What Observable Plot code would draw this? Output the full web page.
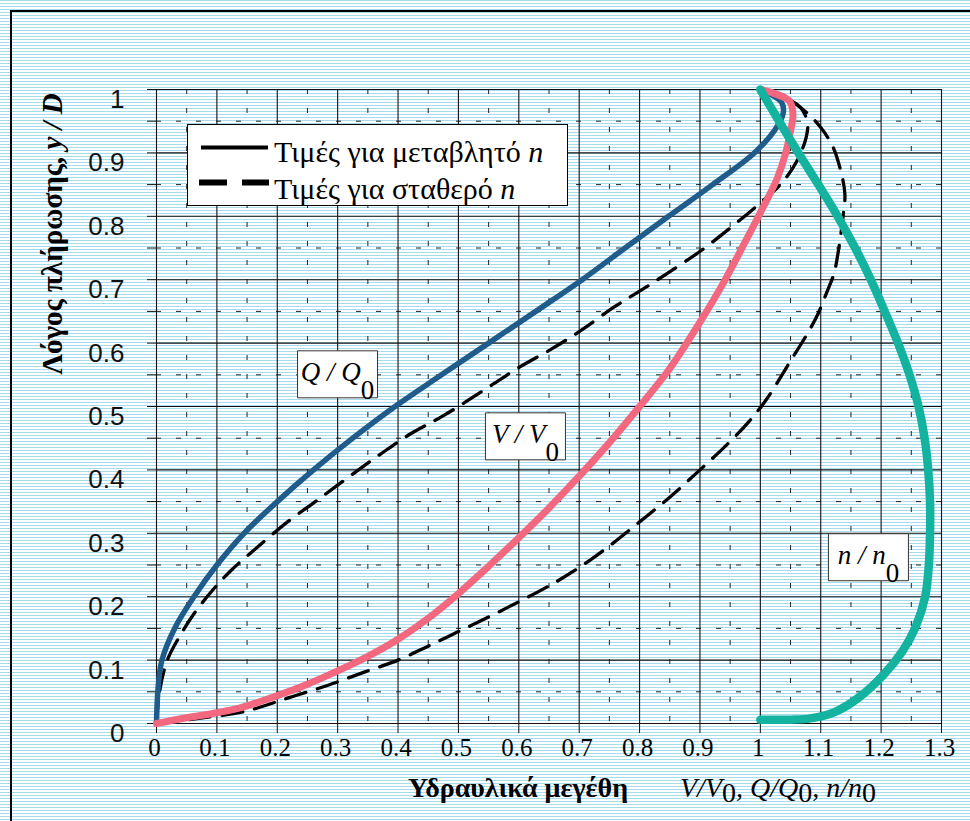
<!DOCTYPE html>
<html>
<head>
<meta charset="utf-8">
<script src="https://cdn.jsdelivr.net/npm/d3@7"></script>
<script src="https://cdn.jsdelivr.net/npm/@observablehq/plot@0.6"></script>
<style>
body { margin: 0; padding: 0; background: #fff; }
#chart { position: absolute; left: 0; top: 0; }
.serif { font-family: 'Liberation Serif'; color: #000; white-space: nowrap; }
#legend { position: absolute; left: 187px; top: 124px; width: 379px; height: 80px;
  background: #fff; border: 1px solid #000; }
#legend svg { position: absolute; left: 0; top: 0; }
#legend .item { position: absolute; left: 86px; font-size: 30px; line-height: 30px; }
#ytitle { position: absolute; left: 63px; top: 234px; font-size: 29px; line-height: 29px; font-weight: bold;
  transform-origin: 0 0; transform: rotate(-90deg) translate(-50%, -25px); }
#xtitle1 { position: absolute; left: 408px; top: 774px; font-size: 28px; line-height: 28px; font-weight: bold; }
#xtitle2 { position: absolute; left: 680px; top: 774px; font-size: 28px; line-height: 28px; }
#xtitle2 i { font-style: italic; }
#xtitle2 .sub { position: relative; top: 5px; }
</style>
</head>
<body>
<div id="chart"></div>
<div id="legend" class="serif">
  <svg id="legendLines" width="379" height="80"></svg>
  <div class="item serif" style="top:12px">Τιμές για μεταβλητό <i>n</i></div>
  <div class="item serif" style="top:49px">Τιμές για σταθερό <i>n</i></div>
</div>
<div id="ytitle" class="serif">Λόγος πλήρωσης, <i>y / D</i></div>
<div id="xtitle1" class="serif">Υδραυλικά μεγέθη</div>
<div id="xtitle2" class="serif"><i>V/V</i><span class="sub">0</span><i>, Q/Q</i><span class="sub">0</span><i>, n/n</i><span class="sub">0</span></div>
<script>
// ---- tick values and labels ----
const xTicks = [0, 0.1, 0.2, 0.3, 0.4, 0.5, 0.6, 0.7, 0.8, 0.9, 1.0, 1.1, 1.2, 1.3];
const xTickLabels = ["0", "0.1", "0.2", "0.3", "0.4", "0.5", "0.6", "0.7", "0.8", "0.9", "1", "1.1", "1.2", "1.3"];
const xMid = [0.05, 0.15, 0.25, 0.35, 0.45, 0.55, 0.65, 0.75, 0.85, 0.95, 1.05, 1.15, 1.25];
const yTicks = [0, 0.1, 0.2, 0.3, 0.4, 0.5, 0.6, 0.7, 0.8, 0.9, 1.0];
const yTickLabels = ["0", "0.1", "0.2", "0.3", "0.4", "0.5", "0.6", "0.7", "0.8", "0.9", "1"];
const yMid = [0.05, 0.15, 0.25, 0.35, 0.45, 0.55, 0.65, 0.75, 0.85, 0.95];

// ---- series: [x, y] pairs, y = filling ratio y/D ----
// Q/Q0, variable n (solid blue)
const qVariable = [[0,0],[0.001,0.03],[0.003,0.06],[0.009,0.1],[0.03,0.15],[0.062,0.2],[0.1,0.25],[0.145,0.3],[0.2,0.35],[0.26,0.4],[0.325,0.45],[0.395,0.5],[0.472,0.55],[0.55,0.6],[0.628,0.65],[0.705,0.7],[0.776,0.75],[0.848,0.8],[0.921,0.85],[0.99,0.9],[1.024,0.936],[1.038,0.963],[1.035,0.98],[1.0,1.0]];
// V/V0, variable n (solid pink)
const vVariable = [[0,0],[0.05,0.009],[0.1,0.017],[0.14,0.025],[0.2,0.044],[0.25,0.062],[0.3,0.083],[0.35,0.106],[0.4,0.133],[0.45,0.166],[0.5,0.205],[0.55,0.248],[0.6,0.293],[0.65,0.34],[0.7,0.39],[0.75,0.443],[0.8,0.5],[0.85,0.56],[0.9,0.633],[0.94,0.697],[0.975,0.76],[1.005,0.815],[1.028,0.86],[1.042,0.9],[1.05,0.935],[1.054,0.96],[1.048,0.982],[1.0,1.0]];
// n/n0, variable n (solid teal)
const nVariable = [[1.0,0.006],[1.05,0.006],[1.083,0.008],[1.123,0.018],[1.163,0.041],[1.205,0.078],[1.236,0.115],[1.257,0.152],[1.273,0.2],[1.279,0.25],[1.281,0.3],[1.281,0.35],[1.278,0.4],[1.272,0.45],[1.262,0.5],[1.247,0.55],[1.228,0.6],[1.206,0.65],[1.183,0.7],[1.157,0.75],[1.128,0.8],[1.096,0.85],[1.063,0.9],[1.031,0.95],[1.0,1.0]];
// Q/Q0, constant n (dashed)
const qConstant = [[0,0],[0.005,0.05],[0.018,0.1],[0.04,0.14],[0.062,0.173],[0.09,0.207],[0.123,0.241],[0.167,0.278],[0.217,0.318],[0.266,0.352],[0.32,0.39],[0.371,0.425],[0.421,0.457],[0.476,0.486],[0.554,0.533],[0.601,0.562],[0.653,0.59],[0.703,0.62],[0.758,0.657],[0.802,0.683],[0.846,0.71],[0.902,0.746],[0.952,0.783],[0.995,0.817],[1.035,0.852],[1.061,0.888],[1.076,0.925],[1.078,0.948],[1.066,0.972],[1.038,0.988],[1.0,1.0]];
// V/V0, constant n (dashed)
const vConstant = [[0,0],[0.07,0.008],[0.15,0.02],[0.217,0.04],[0.283,0.06],[0.344,0.081],[0.4,0.1],[0.45,0.122],[0.5,0.145],[0.55,0.168],[0.6,0.192],[0.65,0.217],[0.7,0.246],[0.75,0.28],[0.8,0.318],[0.85,0.357],[0.9,0.4],[0.946,0.441],[0.98,0.475],[1.01,0.511],[1.05,0.572],[1.078,0.615],[1.095,0.645],[1.11,0.68],[1.122,0.71],[1.13,0.75],[1.137,0.8],[1.14,0.835],[1.133,0.872],[1.12,0.91],[1.1,0.94],[1.075,0.965],[1.045,0.985],[1.0,1.0]];

// curve labels (anchor in data units: centre x, baseline y)
const curveLabels = [
  {sym: "Q", x: 0.2998, y: 0.5405},
  {sym: "V", x: 0.611, y: 0.4427},
  {sym: "n", x: 1.179, y: 0.252}
];

const colors = {q: "#1f5b8b", v: "#f4687f", n: "#13b3a0"};

const xTickData = xTicks.map((v, i) => ({v, label: xTickLabels[i]}));
const yTickData = yTicks.map((v, i) => ({v, label: yTickLabels[i]}));
const yAllTicks = yTicks.concat(yMid).sort((a, b) => a - b);

const boxSymbol = {draw(ctx) { ctx.rect(-40, -30, 80, 47); }};

const serif = "Liberation Serif";
const sans = "Liberation Sans";

const chart = Plot.plot({
  width: 970, height: 821,
  marginLeft: 156, marginRight: 29, marginTop: 89, marginBottom: 98,
  x: {domain: [0, 1.3]},
  y: {domain: [0, 1]},
  style: {background: "transparent", overflow: "hidden"},
  marks: [
    Plot.ruleX(xMid, {x: d => d, stroke: "#222", strokeWidth: 1, strokeDasharray: "5,14"}),
    Plot.ruleY(yMid, {y: d => d, stroke: "#222", strokeWidth: 1, strokeDasharray: "5,15"}),
    Plot.ruleX(xTicks, {x: d => d, stroke: "#111", strokeWidth: 1.1}),
    Plot.ruleY(yTicks, {y: d => d, stroke: "#111", strokeWidth: 1.1}),
    Plot.axisX({ticks: xTicks, tickSize: 10, tickFormat: () => "", label: null, stroke: "#111"}),
    Plot.axisY({ticks: yAllTicks, tickSize: 9, tickFormat: () => "", label: null, stroke: "#111"}),
    Plot.text(xTickData, {x: "v", y: () => 0, text: "label", dy: 15, dx: -2, lineAnchor: "top",
      fontFamily: serif, fontSize: 25, fill: "#000"}),
    Plot.text(yTickData, {x: () => 0, y: "v", text: "label", dx: -32, lineAnchor: "top", textAnchor: "end",
      fontFamily: sans, fontSize: 26, fill: "#111"}),
    Plot.line(vConstant, {x: d => d[0], y: d => d[1], curve: "catmull-rom", stroke: "#000", strokeWidth: 3.3, strokeDasharray: "21,12"}),
    Plot.line(qConstant, {x: d => d[0], y: d => d[1], curve: "catmull-rom", stroke: "#000", strokeWidth: 3.3, strokeDasharray: "21,12"}),
    Plot.line(qVariable, {x: d => d[0], y: d => d[1], curve: "catmull-rom", stroke: colors.q, strokeWidth: 5.5}),
    Plot.line(vVariable, {x: d => d[0], y: d => d[1], curve: "catmull-rom", stroke: colors.v, strokeWidth: 7}),
    Plot.line(nVariable, {x: d => d[0], y: d => d[1], curve: "catmull-rom", stroke: colors.n, strokeWidth: 8.5}),
    Plot.dot(curveLabels, {x: "x", y: "y", symbol: boxSymbol, fill: "#fff", stroke: "#333", strokeWidth: 1}),
    Plot.text(curveLabels, {x: "x", y: "y", text: d => `${d.sym} / ${d.sym}0`, textAnchor: "middle", lineAnchor: "bottom",
      fontFamily: serif, fontSize: 27, fill: "#000"})
  ]
});
document.getElementById("chart").appendChild(chart);

const svg = d3.select(chart);
// striped page background and outer frame, drawn behind everything in the SVG
const defs = svg.insert("defs", ":first-child");
const pat = defs.append("pattern").attr("id", "stripes").attr("patternUnits", "userSpaceOnUse")
  .attr("width", 8).attr("height", 3);
pat.append("rect").attr("width", 8).attr("height", 3).attr("fill", "#fff");
pat.append("rect").attr("width", 8).attr("height", 1).attr("fill", "#a7dcef");
svg.insert("rect", "defs + *").attr("x", 0).attr("y", 0).attr("width", 970).attr("height", 821)
  .attr("fill", "url(#stripes)");
svg.append("path").attr("d", "M11,830V11H980").attr("fill", "none").attr("stroke", "#000").attr("stroke-width", 2);

// curve labels (last text mark): italic ratio + upright, lowered "0"
const textGroups = svg.selectAll('g[aria-label="text"]').nodes();
d3.select(textGroups[textGroups.length - 1]).selectAll("text").each(function(_, i) {
  const s = curveLabels[i].sym;
  const t = d3.select(this);
  t.text(null);
  t.append("tspan").attr("font-style", "italic").text(`${s} / ${s}`);
  t.append("tspan").attr("font-style", "normal").attr("dy", 18).text("0");
});

// legend line samples
const lg = d3.select("#legendLines");
lg.append("line").attr("x1", 13).attr("x2", 80).attr("y1", 22.5).attr("y2", 22.5)
  .attr("stroke", "#000").attr("stroke-width", 4);
lg.append("line").attr("x1", 11).attr("x2", 81).attr("y1", 57.5).attr("y2", 57.5)
  .attr("stroke", "#000").attr("stroke-width", 6).attr("stroke-dasharray", "28,15");
</script>
</body>
</html>
